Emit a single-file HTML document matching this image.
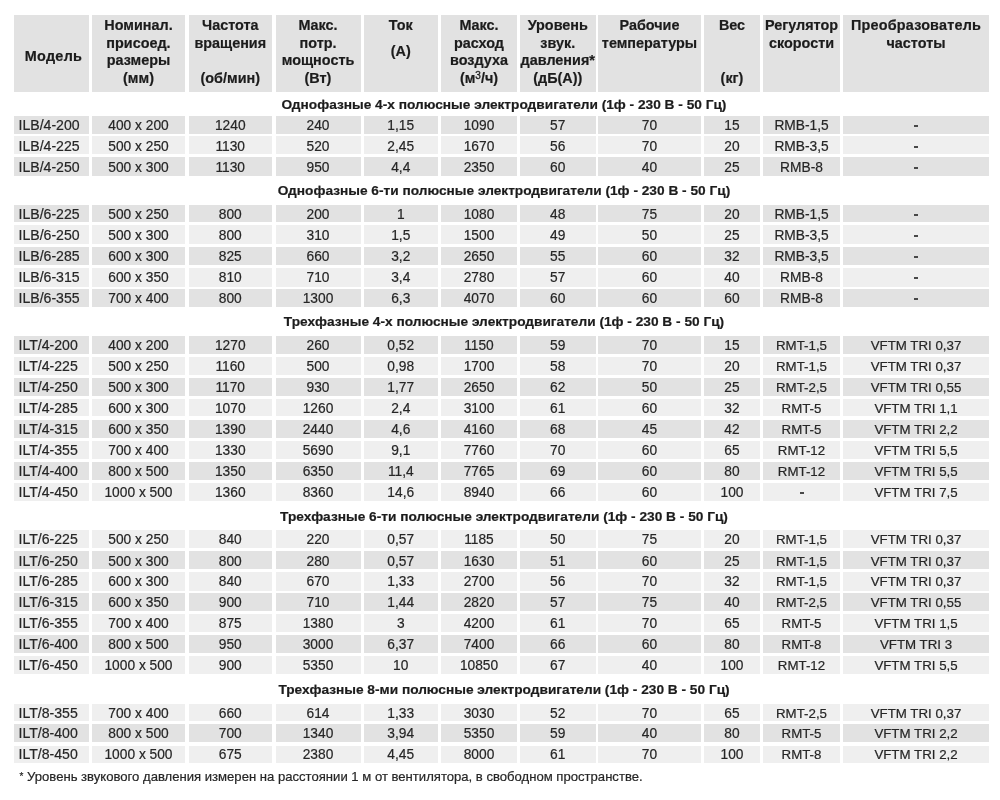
<!DOCTYPE html>
<html><head><meta charset="utf-8"><style>
html,body{margin:0;padding:0;background:#fff;}
body{will-change:transform;width:1000px;height:800px;position:relative;overflow:hidden;font-family:"Liberation Sans",sans-serif;}
.b{position:absolute;}
.t{position:absolute;white-space:nowrap;text-align:center;line-height:1;}
.r{-webkit-text-stroke:0.2px #262626;font-size:13.75px;color:#262626;}
.h{-webkit-text-stroke:0.2px #1c1c1c;font-size:14.4px;font-weight:bold;color:#1c1c1c;}
.s{-webkit-text-stroke:0.2px #1c1c1c;font-size:13.7px;font-weight:bold;color:#1c1c1c;}
.c1{font-size:14.1px;}
.sm{font-size:13.3px;}
.n{-webkit-text-stroke:0.2px #262626;font-size:13.1px;color:#262626;}
sup{font-size:10px;font-weight:normal;-webkit-text-stroke:0.3px #1c1c1c;vertical-align:baseline;position:relative;top:-4.5px;}
</style></head><body>

<div class="b" style="left:14px;top:14.5px;width:75px;height:77px;background:#e2e2e2"></div>
<div class="b" style="left:92px;top:14.5px;width:93px;height:77px;background:#e2e2e2"></div>
<div class="b" style="left:188.5px;top:14.5px;width:83.5px;height:77px;background:#e2e2e2"></div>
<div class="b" style="left:275.5px;top:14.5px;width:85px;height:77px;background:#e2e2e2"></div>
<div class="b" style="left:363.5px;top:14.5px;width:74.5px;height:77px;background:#e2e2e2"></div>
<div class="b" style="left:441px;top:14.5px;width:76px;height:77px;background:#e2e2e2"></div>
<div class="b" style="left:520px;top:14.5px;width:75.5px;height:77px;background:#e2e2e2"></div>
<div class="b" style="left:598px;top:14.5px;width:103px;height:77px;background:#e2e2e2"></div>
<div class="b" style="left:704px;top:14.5px;width:56px;height:77px;background:#e2e2e2"></div>
<div class="b" style="left:763px;top:14.5px;width:77px;height:77px;background:#e2e2e2"></div>
<div class="b" style="left:843px;top:14.5px;width:146px;height:77px;background:#e2e2e2"></div>
<div class="t h" style="left:6px;width:95px;top:49px"><span style="letter-spacing:0.3px">Модель</span></div>
<div class="t h" style="left:82px;width:113px;top:18.1px">Номинал.</div>
<div class="t h" style="left:82px;width:113px;top:35.6px">присоед.</div>
<div class="t h" style="left:82px;width:113px;top:53.2px">размеры</div>
<div class="t h" style="left:82px;width:113px;top:71px">(мм)</div>
<div class="t h" style="left:178.5px;width:103.5px;top:18.1px">Частота</div>
<div class="t h" style="left:178.5px;width:103.5px;top:35.6px">вращения</div>
<div class="t h" style="left:178.5px;width:103.5px;top:71px">(об/мин)</div>
<div class="t h" style="left:265.5px;width:105px;top:18.1px">Макс.</div>
<div class="t h" style="left:265.5px;width:105px;top:35.6px">потр.</div>
<div class="t h" style="left:265.5px;width:105px;top:53.2px">мощность</div>
<div class="t h" style="left:265.5px;width:105px;top:71px">(Вт)</div>
<div class="t h" style="left:353.5px;width:94.5px;top:18.1px">Ток</div>
<div class="t h" style="left:353.5px;width:94.5px;top:43.6px">(А)</div>
<div class="t h" style="left:431px;width:96px;top:18.1px">Макс.</div>
<div class="t h" style="left:431px;width:96px;top:35.6px">расход</div>
<div class="t h" style="left:431px;width:96px;top:53.2px">воздуха</div>
<div class="t h" style="left:431px;width:96px;top:71px">(м<sup>3</sup>/ч)</div>
<div class="t h" style="left:510px;width:95.5px;top:18.1px">Уровень</div>
<div class="t h" style="left:510px;width:95.5px;top:35.6px">звук.</div>
<div class="t h" style="left:510px;width:95.5px;top:53.2px">давления*</div>
<div class="t h" style="left:510px;width:95.5px;top:71px">(дБ(А))</div>
<div class="t h" style="left:588px;width:123px;top:18.1px">Рабочие</div>
<div class="t h" style="left:588px;width:123px;top:35.6px">температуры</div>
<div class="t h" style="left:694px;width:76px;top:18.1px">Вес</div>
<div class="t h" style="left:694px;width:76px;top:71px">(кг)</div>
<div class="t h" style="left:753px;width:97px;top:18.1px">Регулятор</div>
<div class="t h" style="left:753px;width:97px;top:35.6px">скорости</div>
<div class="t h" style="left:833px;width:166px;top:18.1px"><span style="letter-spacing:0.2px">Преобразователь</span></div>
<div class="t h" style="left:833px;width:166px;top:35.6px">частоты</div>
<div class="t s" style="left:204px;width:600px;top:97.5px">Однофазные 4-х полюсные электродвигатели (1ф - 230 В - 50 Гц)</div>
<div class="b" style="left:14px;top:115.8px;width:75px;height:17.8px;background:#e2e2e2"></div>
<div class="b" style="left:92px;top:115.8px;width:93px;height:17.8px;background:#e2e2e2"></div>
<div class="b" style="left:188.5px;top:115.8px;width:83.5px;height:17.8px;background:#e2e2e2"></div>
<div class="b" style="left:275.5px;top:115.8px;width:85px;height:17.8px;background:#e2e2e2"></div>
<div class="b" style="left:363.5px;top:115.8px;width:74.5px;height:17.8px;background:#e2e2e2"></div>
<div class="b" style="left:441px;top:115.8px;width:76px;height:17.8px;background:#e2e2e2"></div>
<div class="b" style="left:520px;top:115.8px;width:75.5px;height:17.8px;background:#e2e2e2"></div>
<div class="b" style="left:598px;top:115.8px;width:103px;height:17.8px;background:#e2e2e2"></div>
<div class="b" style="left:704px;top:115.8px;width:56px;height:17.8px;background:#e2e2e2"></div>
<div class="b" style="left:763px;top:115.8px;width:77px;height:17.8px;background:#e2e2e2"></div>
<div class="b" style="left:843px;top:115.8px;width:146px;height:17.8px;background:#e2e2e2"></div>
<div class="t r c1" style="left:18.5px;top:118px;text-align:left">ILB/4-200</div>
<div class="t r" style="left:82px;width:113px;top:119px">400 x 200</div>
<div class="t r" style="left:178.5px;width:103.5px;top:119px">1240</div>
<div class="t r" style="left:265.5px;width:105px;top:119px">240</div>
<div class="t r" style="left:353.5px;width:94.5px;top:119px">1,15</div>
<div class="t r" style="left:431px;width:96px;top:119px">1090</div>
<div class="t r" style="left:510px;width:95.5px;top:119px">57</div>
<div class="t r" style="left:588px;width:123px;top:119px">70</div>
<div class="t r" style="left:694px;width:76px;top:119px">15</div>
<div class="t r" style="left:753px;width:97px;top:119px">RMB-1,5</div>
<div class="b" style="left:914px;top:125px;width:4px;height:2px;background:#484848"></div>
<div class="b" style="left:14px;top:136.2px;width:75px;height:18px;background:#efefef"></div>
<div class="b" style="left:92px;top:136.2px;width:93px;height:18px;background:#efefef"></div>
<div class="b" style="left:188.5px;top:136.2px;width:83.5px;height:18px;background:#efefef"></div>
<div class="b" style="left:275.5px;top:136.2px;width:85px;height:18px;background:#efefef"></div>
<div class="b" style="left:363.5px;top:136.2px;width:74.5px;height:18px;background:#efefef"></div>
<div class="b" style="left:441px;top:136.2px;width:76px;height:18px;background:#efefef"></div>
<div class="b" style="left:520px;top:136.2px;width:75.5px;height:18px;background:#efefef"></div>
<div class="b" style="left:598px;top:136.2px;width:103px;height:18px;background:#efefef"></div>
<div class="b" style="left:704px;top:136.2px;width:56px;height:18px;background:#efefef"></div>
<div class="b" style="left:763px;top:136.2px;width:77px;height:18px;background:#efefef"></div>
<div class="b" style="left:843px;top:136.2px;width:146px;height:18px;background:#efefef"></div>
<div class="t r c1" style="left:18.5px;top:139px;text-align:left">ILB/4-225</div>
<div class="t r" style="left:82px;width:113px;top:140px">500 x 250</div>
<div class="t r" style="left:178.5px;width:103.5px;top:140px">1130</div>
<div class="t r" style="left:265.5px;width:105px;top:140px">520</div>
<div class="t r" style="left:353.5px;width:94.5px;top:140px">2,45</div>
<div class="t r" style="left:431px;width:96px;top:140px">1670</div>
<div class="t r" style="left:510px;width:95.5px;top:140px">56</div>
<div class="t r" style="left:588px;width:123px;top:140px">70</div>
<div class="t r" style="left:694px;width:76px;top:140px">20</div>
<div class="t r" style="left:753px;width:97px;top:140px">RMB-3,5</div>
<div class="b" style="left:914px;top:146px;width:4px;height:2px;background:#484848"></div>
<div class="b" style="left:14px;top:157.2px;width:75px;height:18.4px;background:#e2e2e2"></div>
<div class="b" style="left:92px;top:157.2px;width:93px;height:18.4px;background:#e2e2e2"></div>
<div class="b" style="left:188.5px;top:157.2px;width:83.5px;height:18.4px;background:#e2e2e2"></div>
<div class="b" style="left:275.5px;top:157.2px;width:85px;height:18.4px;background:#e2e2e2"></div>
<div class="b" style="left:363.5px;top:157.2px;width:74.5px;height:18.4px;background:#e2e2e2"></div>
<div class="b" style="left:441px;top:157.2px;width:76px;height:18.4px;background:#e2e2e2"></div>
<div class="b" style="left:520px;top:157.2px;width:75.5px;height:18.4px;background:#e2e2e2"></div>
<div class="b" style="left:598px;top:157.2px;width:103px;height:18.4px;background:#e2e2e2"></div>
<div class="b" style="left:704px;top:157.2px;width:56px;height:18.4px;background:#e2e2e2"></div>
<div class="b" style="left:763px;top:157.2px;width:77px;height:18.4px;background:#e2e2e2"></div>
<div class="b" style="left:843px;top:157.2px;width:146px;height:18.4px;background:#e2e2e2"></div>
<div class="t r c1" style="left:18.5px;top:160px;text-align:left">ILB/4-250</div>
<div class="t r" style="left:82px;width:113px;top:161px">500 x 300</div>
<div class="t r" style="left:178.5px;width:103.5px;top:161px">1130</div>
<div class="t r" style="left:265.5px;width:105px;top:161px">950</div>
<div class="t r" style="left:353.5px;width:94.5px;top:161px">4,4</div>
<div class="t r" style="left:431px;width:96px;top:161px">2350</div>
<div class="t r" style="left:510px;width:95.5px;top:161px">60</div>
<div class="t r" style="left:588px;width:123px;top:161px">40</div>
<div class="t r" style="left:694px;width:76px;top:161px">25</div>
<div class="t r" style="left:753px;width:97px;top:161px">RMB-8</div>
<div class="b" style="left:914px;top:167px;width:4px;height:2px;background:#484848"></div>
<div class="t s" style="left:204px;width:600px;top:183.5px">Однофазные 6-ти полюсные электродвигатели (1ф - 230 В - 50 Гц)</div>
<div class="b" style="left:14px;top:204.65px;width:75px;height:17.85px;background:#e2e2e2"></div>
<div class="b" style="left:92px;top:204.65px;width:93px;height:17.85px;background:#e2e2e2"></div>
<div class="b" style="left:188.5px;top:204.65px;width:83.5px;height:17.85px;background:#e2e2e2"></div>
<div class="b" style="left:275.5px;top:204.65px;width:85px;height:17.85px;background:#e2e2e2"></div>
<div class="b" style="left:363.5px;top:204.65px;width:74.5px;height:17.85px;background:#e2e2e2"></div>
<div class="b" style="left:441px;top:204.65px;width:76px;height:17.85px;background:#e2e2e2"></div>
<div class="b" style="left:520px;top:204.65px;width:75.5px;height:17.85px;background:#e2e2e2"></div>
<div class="b" style="left:598px;top:204.65px;width:103px;height:17.85px;background:#e2e2e2"></div>
<div class="b" style="left:704px;top:204.65px;width:56px;height:17.85px;background:#e2e2e2"></div>
<div class="b" style="left:763px;top:204.65px;width:77px;height:17.85px;background:#e2e2e2"></div>
<div class="b" style="left:843px;top:204.65px;width:146px;height:17.85px;background:#e2e2e2"></div>
<div class="t r c1" style="left:18.5px;top:207px;text-align:left">ILB/6-225</div>
<div class="t r" style="left:82px;width:113px;top:208px">500 x 250</div>
<div class="t r" style="left:178.5px;width:103.5px;top:208px">800</div>
<div class="t r" style="left:265.5px;width:105px;top:208px">200</div>
<div class="t r" style="left:353.5px;width:94.5px;top:208px">1</div>
<div class="t r" style="left:431px;width:96px;top:208px">1080</div>
<div class="t r" style="left:510px;width:95.5px;top:208px">48</div>
<div class="t r" style="left:588px;width:123px;top:208px">75</div>
<div class="t r" style="left:694px;width:76px;top:208px">20</div>
<div class="t r" style="left:753px;width:97px;top:208px">RMB-1,5</div>
<div class="b" style="left:914px;top:214px;width:4px;height:2px;background:#484848"></div>
<div class="b" style="left:14px;top:224.75px;width:75px;height:19.15px;background:#efefef"></div>
<div class="b" style="left:92px;top:224.75px;width:93px;height:19.15px;background:#efefef"></div>
<div class="b" style="left:188.5px;top:224.75px;width:83.5px;height:19.15px;background:#efefef"></div>
<div class="b" style="left:275.5px;top:224.75px;width:85px;height:19.15px;background:#efefef"></div>
<div class="b" style="left:363.5px;top:224.75px;width:74.5px;height:19.15px;background:#efefef"></div>
<div class="b" style="left:441px;top:224.75px;width:76px;height:19.15px;background:#efefef"></div>
<div class="b" style="left:520px;top:224.75px;width:75.5px;height:19.15px;background:#efefef"></div>
<div class="b" style="left:598px;top:224.75px;width:103px;height:19.15px;background:#efefef"></div>
<div class="b" style="left:704px;top:224.75px;width:56px;height:19.15px;background:#efefef"></div>
<div class="b" style="left:763px;top:224.75px;width:77px;height:19.15px;background:#efefef"></div>
<div class="b" style="left:843px;top:224.75px;width:146px;height:19.15px;background:#efefef"></div>
<div class="t r c1" style="left:18.5px;top:228px;text-align:left">ILB/6-250</div>
<div class="t r" style="left:82px;width:113px;top:229px">500 x 300</div>
<div class="t r" style="left:178.5px;width:103.5px;top:229px">800</div>
<div class="t r" style="left:265.5px;width:105px;top:229px">310</div>
<div class="t r" style="left:353.5px;width:94.5px;top:229px">1,5</div>
<div class="t r" style="left:431px;width:96px;top:229px">1500</div>
<div class="t r" style="left:510px;width:95.5px;top:229px">49</div>
<div class="t r" style="left:588px;width:123px;top:229px">50</div>
<div class="t r" style="left:694px;width:76px;top:229px">25</div>
<div class="t r" style="left:753px;width:97px;top:229px">RMB-3,5</div>
<div class="b" style="left:914px;top:235px;width:4px;height:2px;background:#484848"></div>
<div class="b" style="left:14px;top:246.9px;width:75px;height:17.85px;background:#e2e2e2"></div>
<div class="b" style="left:92px;top:246.9px;width:93px;height:17.85px;background:#e2e2e2"></div>
<div class="b" style="left:188.5px;top:246.9px;width:83.5px;height:17.85px;background:#e2e2e2"></div>
<div class="b" style="left:275.5px;top:246.9px;width:85px;height:17.85px;background:#e2e2e2"></div>
<div class="b" style="left:363.5px;top:246.9px;width:74.5px;height:17.85px;background:#e2e2e2"></div>
<div class="b" style="left:441px;top:246.9px;width:76px;height:17.85px;background:#e2e2e2"></div>
<div class="b" style="left:520px;top:246.9px;width:75.5px;height:17.85px;background:#e2e2e2"></div>
<div class="b" style="left:598px;top:246.9px;width:103px;height:17.85px;background:#e2e2e2"></div>
<div class="b" style="left:704px;top:246.9px;width:56px;height:17.85px;background:#e2e2e2"></div>
<div class="b" style="left:763px;top:246.9px;width:77px;height:17.85px;background:#e2e2e2"></div>
<div class="b" style="left:843px;top:246.9px;width:146px;height:17.85px;background:#e2e2e2"></div>
<div class="t r c1" style="left:18.5px;top:249px;text-align:left">ILB/6-285</div>
<div class="t r" style="left:82px;width:113px;top:250px">600 x 300</div>
<div class="t r" style="left:178.5px;width:103.5px;top:250px">825</div>
<div class="t r" style="left:265.5px;width:105px;top:250px">660</div>
<div class="t r" style="left:353.5px;width:94.5px;top:250px">3,2</div>
<div class="t r" style="left:431px;width:96px;top:250px">2650</div>
<div class="t r" style="left:510px;width:95.5px;top:250px">55</div>
<div class="t r" style="left:588px;width:123px;top:250px">60</div>
<div class="t r" style="left:694px;width:76px;top:250px">32</div>
<div class="t r" style="left:753px;width:97px;top:250px">RMB-3,5</div>
<div class="b" style="left:914px;top:256px;width:4px;height:2px;background:#484848"></div>
<div class="b" style="left:14px;top:267.75px;width:75px;height:18.75px;background:#efefef"></div>
<div class="b" style="left:92px;top:267.75px;width:93px;height:18.75px;background:#efefef"></div>
<div class="b" style="left:188.5px;top:267.75px;width:83.5px;height:18.75px;background:#efefef"></div>
<div class="b" style="left:275.5px;top:267.75px;width:85px;height:18.75px;background:#efefef"></div>
<div class="b" style="left:363.5px;top:267.75px;width:74.5px;height:18.75px;background:#efefef"></div>
<div class="b" style="left:441px;top:267.75px;width:76px;height:18.75px;background:#efefef"></div>
<div class="b" style="left:520px;top:267.75px;width:75.5px;height:18.75px;background:#efefef"></div>
<div class="b" style="left:598px;top:267.75px;width:103px;height:18.75px;background:#efefef"></div>
<div class="b" style="left:704px;top:267.75px;width:56px;height:18.75px;background:#efefef"></div>
<div class="b" style="left:763px;top:267.75px;width:77px;height:18.75px;background:#efefef"></div>
<div class="b" style="left:843px;top:267.75px;width:146px;height:18.75px;background:#efefef"></div>
<div class="t r c1" style="left:18.5px;top:270px;text-align:left">ILB/6-315</div>
<div class="t r" style="left:82px;width:113px;top:271px">600 x 350</div>
<div class="t r" style="left:178.5px;width:103.5px;top:271px">810</div>
<div class="t r" style="left:265.5px;width:105px;top:271px">710</div>
<div class="t r" style="left:353.5px;width:94.5px;top:271px">3,4</div>
<div class="t r" style="left:431px;width:96px;top:271px">2780</div>
<div class="t r" style="left:510px;width:95.5px;top:271px">57</div>
<div class="t r" style="left:588px;width:123px;top:271px">60</div>
<div class="t r" style="left:694px;width:76px;top:271px">40</div>
<div class="t r" style="left:753px;width:97px;top:271px">RMB-8</div>
<div class="b" style="left:914px;top:277px;width:4px;height:2px;background:#484848"></div>
<div class="b" style="left:14px;top:288.75px;width:75px;height:18px;background:#e2e2e2"></div>
<div class="b" style="left:92px;top:288.75px;width:93px;height:18px;background:#e2e2e2"></div>
<div class="b" style="left:188.5px;top:288.75px;width:83.5px;height:18px;background:#e2e2e2"></div>
<div class="b" style="left:275.5px;top:288.75px;width:85px;height:18px;background:#e2e2e2"></div>
<div class="b" style="left:363.5px;top:288.75px;width:74.5px;height:18px;background:#e2e2e2"></div>
<div class="b" style="left:441px;top:288.75px;width:76px;height:18px;background:#e2e2e2"></div>
<div class="b" style="left:520px;top:288.75px;width:75.5px;height:18px;background:#e2e2e2"></div>
<div class="b" style="left:598px;top:288.75px;width:103px;height:18px;background:#e2e2e2"></div>
<div class="b" style="left:704px;top:288.75px;width:56px;height:18px;background:#e2e2e2"></div>
<div class="b" style="left:763px;top:288.75px;width:77px;height:18px;background:#e2e2e2"></div>
<div class="b" style="left:843px;top:288.75px;width:146px;height:18px;background:#e2e2e2"></div>
<div class="t r c1" style="left:18.5px;top:291px;text-align:left">ILB/6-355</div>
<div class="t r" style="left:82px;width:113px;top:292px">700 x 400</div>
<div class="t r" style="left:178.5px;width:103.5px;top:292px">800</div>
<div class="t r" style="left:265.5px;width:105px;top:292px">1300</div>
<div class="t r" style="left:353.5px;width:94.5px;top:292px">6,3</div>
<div class="t r" style="left:431px;width:96px;top:292px">4070</div>
<div class="t r" style="left:510px;width:95.5px;top:292px">60</div>
<div class="t r" style="left:588px;width:123px;top:292px">60</div>
<div class="t r" style="left:694px;width:76px;top:292px">60</div>
<div class="t r" style="left:753px;width:97px;top:292px">RMB-8</div>
<div class="b" style="left:914px;top:298px;width:4px;height:2px;background:#484848"></div>
<div class="t s" style="left:204px;width:600px;top:315px">Трехфазные 4-х полюсные электродвигатели (1ф - 230 В - 50 Гц)</div>
<div class="b" style="left:14px;top:335.85px;width:75px;height:18.15px;background:#e2e2e2"></div>
<div class="b" style="left:92px;top:335.85px;width:93px;height:18.15px;background:#e2e2e2"></div>
<div class="b" style="left:188.5px;top:335.85px;width:83.5px;height:18.15px;background:#e2e2e2"></div>
<div class="b" style="left:275.5px;top:335.85px;width:85px;height:18.15px;background:#e2e2e2"></div>
<div class="b" style="left:363.5px;top:335.85px;width:74.5px;height:18.15px;background:#e2e2e2"></div>
<div class="b" style="left:441px;top:335.85px;width:76px;height:18.15px;background:#e2e2e2"></div>
<div class="b" style="left:520px;top:335.85px;width:75.5px;height:18.15px;background:#e2e2e2"></div>
<div class="b" style="left:598px;top:335.85px;width:103px;height:18.15px;background:#e2e2e2"></div>
<div class="b" style="left:704px;top:335.85px;width:56px;height:18.15px;background:#e2e2e2"></div>
<div class="b" style="left:763px;top:335.85px;width:77px;height:18.15px;background:#e2e2e2"></div>
<div class="b" style="left:843px;top:335.85px;width:146px;height:18.15px;background:#e2e2e2"></div>
<div class="t r c1" style="left:18.5px;top:338px;text-align:left">ILT/4-200</div>
<div class="t r" style="left:82px;width:113px;top:339px">400 x 200</div>
<div class="t r" style="left:178.5px;width:103.5px;top:339px">1270</div>
<div class="t r" style="left:265.5px;width:105px;top:339px">260</div>
<div class="t r" style="left:353.5px;width:94.5px;top:339px">0,52</div>
<div class="t r" style="left:431px;width:96px;top:339px">1150</div>
<div class="t r" style="left:510px;width:95.5px;top:339px">59</div>
<div class="t r" style="left:588px;width:123px;top:339px">70</div>
<div class="t r" style="left:694px;width:76px;top:339px">15</div>
<div class="t r sm" style="left:753px;width:97px;top:339px">RMT-1,5</div>
<div class="t r sm" style="left:833px;width:166px;top:339px">VFTM TRI 0,37</div>
<div class="b" style="left:14px;top:357px;width:75px;height:18px;background:#efefef"></div>
<div class="b" style="left:92px;top:357px;width:93px;height:18px;background:#efefef"></div>
<div class="b" style="left:188.5px;top:357px;width:83.5px;height:18px;background:#efefef"></div>
<div class="b" style="left:275.5px;top:357px;width:85px;height:18px;background:#efefef"></div>
<div class="b" style="left:363.5px;top:357px;width:74.5px;height:18px;background:#efefef"></div>
<div class="b" style="left:441px;top:357px;width:76px;height:18px;background:#efefef"></div>
<div class="b" style="left:520px;top:357px;width:75.5px;height:18px;background:#efefef"></div>
<div class="b" style="left:598px;top:357px;width:103px;height:18px;background:#efefef"></div>
<div class="b" style="left:704px;top:357px;width:56px;height:18px;background:#efefef"></div>
<div class="b" style="left:763px;top:357px;width:77px;height:18px;background:#efefef"></div>
<div class="b" style="left:843px;top:357px;width:146px;height:18px;background:#efefef"></div>
<div class="t r c1" style="left:18.5px;top:359px;text-align:left">ILT/4-225</div>
<div class="t r" style="left:82px;width:113px;top:360px">500 x 250</div>
<div class="t r" style="left:178.5px;width:103.5px;top:360px">1160</div>
<div class="t r" style="left:265.5px;width:105px;top:360px">500</div>
<div class="t r" style="left:353.5px;width:94.5px;top:360px">0,98</div>
<div class="t r" style="left:431px;width:96px;top:360px">1700</div>
<div class="t r" style="left:510px;width:95.5px;top:360px">58</div>
<div class="t r" style="left:588px;width:123px;top:360px">70</div>
<div class="t r" style="left:694px;width:76px;top:360px">20</div>
<div class="t r sm" style="left:753px;width:97px;top:360px">RMT-1,5</div>
<div class="t r sm" style="left:833px;width:166px;top:360px">VFTM TRI 0,37</div>
<div class="b" style="left:14px;top:378px;width:75px;height:17.9px;background:#e2e2e2"></div>
<div class="b" style="left:92px;top:378px;width:93px;height:17.9px;background:#e2e2e2"></div>
<div class="b" style="left:188.5px;top:378px;width:83.5px;height:17.9px;background:#e2e2e2"></div>
<div class="b" style="left:275.5px;top:378px;width:85px;height:17.9px;background:#e2e2e2"></div>
<div class="b" style="left:363.5px;top:378px;width:74.5px;height:17.9px;background:#e2e2e2"></div>
<div class="b" style="left:441px;top:378px;width:76px;height:17.9px;background:#e2e2e2"></div>
<div class="b" style="left:520px;top:378px;width:75.5px;height:17.9px;background:#e2e2e2"></div>
<div class="b" style="left:598px;top:378px;width:103px;height:17.9px;background:#e2e2e2"></div>
<div class="b" style="left:704px;top:378px;width:56px;height:17.9px;background:#e2e2e2"></div>
<div class="b" style="left:763px;top:378px;width:77px;height:17.9px;background:#e2e2e2"></div>
<div class="b" style="left:843px;top:378px;width:146px;height:17.9px;background:#e2e2e2"></div>
<div class="t r c1" style="left:18.5px;top:380px;text-align:left">ILT/4-250</div>
<div class="t r" style="left:82px;width:113px;top:381px">500 x 300</div>
<div class="t r" style="left:178.5px;width:103.5px;top:381px">1170</div>
<div class="t r" style="left:265.5px;width:105px;top:381px">930</div>
<div class="t r" style="left:353.5px;width:94.5px;top:381px">1,77</div>
<div class="t r" style="left:431px;width:96px;top:381px">2650</div>
<div class="t r" style="left:510px;width:95.5px;top:381px">62</div>
<div class="t r" style="left:588px;width:123px;top:381px">50</div>
<div class="t r" style="left:694px;width:76px;top:381px">25</div>
<div class="t r sm" style="left:753px;width:97px;top:381px">RMT-2,5</div>
<div class="t r sm" style="left:833px;width:166px;top:381px">VFTM TRI 0,55</div>
<div class="b" style="left:14px;top:398.9px;width:75px;height:17.6px;background:#efefef"></div>
<div class="b" style="left:92px;top:398.9px;width:93px;height:17.6px;background:#efefef"></div>
<div class="b" style="left:188.5px;top:398.9px;width:83.5px;height:17.6px;background:#efefef"></div>
<div class="b" style="left:275.5px;top:398.9px;width:85px;height:17.6px;background:#efefef"></div>
<div class="b" style="left:363.5px;top:398.9px;width:74.5px;height:17.6px;background:#efefef"></div>
<div class="b" style="left:441px;top:398.9px;width:76px;height:17.6px;background:#efefef"></div>
<div class="b" style="left:520px;top:398.9px;width:75.5px;height:17.6px;background:#efefef"></div>
<div class="b" style="left:598px;top:398.9px;width:103px;height:17.6px;background:#efefef"></div>
<div class="b" style="left:704px;top:398.9px;width:56px;height:17.6px;background:#efefef"></div>
<div class="b" style="left:763px;top:398.9px;width:77px;height:17.6px;background:#efefef"></div>
<div class="b" style="left:843px;top:398.9px;width:146px;height:17.6px;background:#efefef"></div>
<div class="t r c1" style="left:18.5px;top:401px;text-align:left">ILT/4-285</div>
<div class="t r" style="left:82px;width:113px;top:402px">600 x 300</div>
<div class="t r" style="left:178.5px;width:103.5px;top:402px">1070</div>
<div class="t r" style="left:265.5px;width:105px;top:402px">1260</div>
<div class="t r" style="left:353.5px;width:94.5px;top:402px">2,4</div>
<div class="t r" style="left:431px;width:96px;top:402px">3100</div>
<div class="t r" style="left:510px;width:95.5px;top:402px">61</div>
<div class="t r" style="left:588px;width:123px;top:402px">60</div>
<div class="t r" style="left:694px;width:76px;top:402px">32</div>
<div class="t r sm" style="left:753px;width:97px;top:402px">RMT-5</div>
<div class="t r sm" style="left:833px;width:166px;top:402px">VFTM TRI 1,1</div>
<div class="b" style="left:14px;top:419.9px;width:75px;height:18.4px;background:#e2e2e2"></div>
<div class="b" style="left:92px;top:419.9px;width:93px;height:18.4px;background:#e2e2e2"></div>
<div class="b" style="left:188.5px;top:419.9px;width:83.5px;height:18.4px;background:#e2e2e2"></div>
<div class="b" style="left:275.5px;top:419.9px;width:85px;height:18.4px;background:#e2e2e2"></div>
<div class="b" style="left:363.5px;top:419.9px;width:74.5px;height:18.4px;background:#e2e2e2"></div>
<div class="b" style="left:441px;top:419.9px;width:76px;height:18.4px;background:#e2e2e2"></div>
<div class="b" style="left:520px;top:419.9px;width:75.5px;height:18.4px;background:#e2e2e2"></div>
<div class="b" style="left:598px;top:419.9px;width:103px;height:18.4px;background:#e2e2e2"></div>
<div class="b" style="left:704px;top:419.9px;width:56px;height:18.4px;background:#e2e2e2"></div>
<div class="b" style="left:763px;top:419.9px;width:77px;height:18.4px;background:#e2e2e2"></div>
<div class="b" style="left:843px;top:419.9px;width:146px;height:18.4px;background:#e2e2e2"></div>
<div class="t r c1" style="left:18.5px;top:422px;text-align:left">ILT/4-315</div>
<div class="t r" style="left:82px;width:113px;top:423px">600 x 350</div>
<div class="t r" style="left:178.5px;width:103.5px;top:423px">1390</div>
<div class="t r" style="left:265.5px;width:105px;top:423px">2440</div>
<div class="t r" style="left:353.5px;width:94.5px;top:423px">4,6</div>
<div class="t r" style="left:431px;width:96px;top:423px">4160</div>
<div class="t r" style="left:510px;width:95.5px;top:423px">68</div>
<div class="t r" style="left:588px;width:123px;top:423px">45</div>
<div class="t r" style="left:694px;width:76px;top:423px">42</div>
<div class="t r sm" style="left:753px;width:97px;top:423px">RMT-5</div>
<div class="t r sm" style="left:833px;width:166px;top:423px">VFTM TRI 2,2</div>
<div class="b" style="left:14px;top:440.6px;width:75px;height:18.4px;background:#efefef"></div>
<div class="b" style="left:92px;top:440.6px;width:93px;height:18.4px;background:#efefef"></div>
<div class="b" style="left:188.5px;top:440.6px;width:83.5px;height:18.4px;background:#efefef"></div>
<div class="b" style="left:275.5px;top:440.6px;width:85px;height:18.4px;background:#efefef"></div>
<div class="b" style="left:363.5px;top:440.6px;width:74.5px;height:18.4px;background:#efefef"></div>
<div class="b" style="left:441px;top:440.6px;width:76px;height:18.4px;background:#efefef"></div>
<div class="b" style="left:520px;top:440.6px;width:75.5px;height:18.4px;background:#efefef"></div>
<div class="b" style="left:598px;top:440.6px;width:103px;height:18.4px;background:#efefef"></div>
<div class="b" style="left:704px;top:440.6px;width:56px;height:18.4px;background:#efefef"></div>
<div class="b" style="left:763px;top:440.6px;width:77px;height:18.4px;background:#efefef"></div>
<div class="b" style="left:843px;top:440.6px;width:146px;height:18.4px;background:#efefef"></div>
<div class="t r c1" style="left:18.5px;top:443px;text-align:left">ILT/4-355</div>
<div class="t r" style="left:82px;width:113px;top:444px">700 x 400</div>
<div class="t r" style="left:178.5px;width:103.5px;top:444px">1330</div>
<div class="t r" style="left:265.5px;width:105px;top:444px">5690</div>
<div class="t r" style="left:353.5px;width:94.5px;top:444px">9,1</div>
<div class="t r" style="left:431px;width:96px;top:444px">7760</div>
<div class="t r" style="left:510px;width:95.5px;top:444px">70</div>
<div class="t r" style="left:588px;width:123px;top:444px">60</div>
<div class="t r" style="left:694px;width:76px;top:444px">65</div>
<div class="t r sm" style="left:753px;width:97px;top:444px">RMT-12</div>
<div class="t r sm" style="left:833px;width:166px;top:444px">VFTM TRI 5,5</div>
<div class="b" style="left:14px;top:462px;width:75px;height:18px;background:#e2e2e2"></div>
<div class="b" style="left:92px;top:462px;width:93px;height:18px;background:#e2e2e2"></div>
<div class="b" style="left:188.5px;top:462px;width:83.5px;height:18px;background:#e2e2e2"></div>
<div class="b" style="left:275.5px;top:462px;width:85px;height:18px;background:#e2e2e2"></div>
<div class="b" style="left:363.5px;top:462px;width:74.5px;height:18px;background:#e2e2e2"></div>
<div class="b" style="left:441px;top:462px;width:76px;height:18px;background:#e2e2e2"></div>
<div class="b" style="left:520px;top:462px;width:75.5px;height:18px;background:#e2e2e2"></div>
<div class="b" style="left:598px;top:462px;width:103px;height:18px;background:#e2e2e2"></div>
<div class="b" style="left:704px;top:462px;width:56px;height:18px;background:#e2e2e2"></div>
<div class="b" style="left:763px;top:462px;width:77px;height:18px;background:#e2e2e2"></div>
<div class="b" style="left:843px;top:462px;width:146px;height:18px;background:#e2e2e2"></div>
<div class="t r c1" style="left:18.5px;top:464px;text-align:left">ILT/4-400</div>
<div class="t r" style="left:82px;width:113px;top:465px">800 x 500</div>
<div class="t r" style="left:178.5px;width:103.5px;top:465px">1350</div>
<div class="t r" style="left:265.5px;width:105px;top:465px">6350</div>
<div class="t r" style="left:353.5px;width:94.5px;top:465px">11,4</div>
<div class="t r" style="left:431px;width:96px;top:465px">7765</div>
<div class="t r" style="left:510px;width:95.5px;top:465px">69</div>
<div class="t r" style="left:588px;width:123px;top:465px">60</div>
<div class="t r" style="left:694px;width:76px;top:465px">80</div>
<div class="t r sm" style="left:753px;width:97px;top:465px">RMT-12</div>
<div class="t r sm" style="left:833px;width:166px;top:465px">VFTM TRI 5,5</div>
<div class="b" style="left:14px;top:483px;width:75px;height:18px;background:#efefef"></div>
<div class="b" style="left:92px;top:483px;width:93px;height:18px;background:#efefef"></div>
<div class="b" style="left:188.5px;top:483px;width:83.5px;height:18px;background:#efefef"></div>
<div class="b" style="left:275.5px;top:483px;width:85px;height:18px;background:#efefef"></div>
<div class="b" style="left:363.5px;top:483px;width:74.5px;height:18px;background:#efefef"></div>
<div class="b" style="left:441px;top:483px;width:76px;height:18px;background:#efefef"></div>
<div class="b" style="left:520px;top:483px;width:75.5px;height:18px;background:#efefef"></div>
<div class="b" style="left:598px;top:483px;width:103px;height:18px;background:#efefef"></div>
<div class="b" style="left:704px;top:483px;width:56px;height:18px;background:#efefef"></div>
<div class="b" style="left:763px;top:483px;width:77px;height:18px;background:#efefef"></div>
<div class="b" style="left:843px;top:483px;width:146px;height:18px;background:#efefef"></div>
<div class="t r c1" style="left:18.5px;top:485px;text-align:left">ILT/4-450</div>
<div class="t r" style="left:82px;width:113px;top:486px">1000 x 500</div>
<div class="t r" style="left:178.5px;width:103.5px;top:486px">1360</div>
<div class="t r" style="left:265.5px;width:105px;top:486px">8360</div>
<div class="t r" style="left:353.5px;width:94.5px;top:486px">14,6</div>
<div class="t r" style="left:431px;width:96px;top:486px">8940</div>
<div class="t r" style="left:510px;width:95.5px;top:486px">66</div>
<div class="t r" style="left:588px;width:123px;top:486px">60</div>
<div class="t r" style="left:694px;width:76px;top:486px">100</div>
<div class="b" style="left:800px;top:492px;width:4px;height:2px;background:#484848"></div>
<div class="t r sm" style="left:833px;width:166px;top:486px">VFTM TRI 7,5</div>
<div class="t s" style="left:204px;width:600px;top:509.5px">Трехфазные 6-ти полюсные электродвигатели (1ф - 230 В - 50 Гц)</div>
<div class="b" style="left:14px;top:530px;width:75px;height:17.9px;background:#efefef"></div>
<div class="b" style="left:92px;top:530px;width:93px;height:17.9px;background:#efefef"></div>
<div class="b" style="left:188.5px;top:530px;width:83.5px;height:17.9px;background:#efefef"></div>
<div class="b" style="left:275.5px;top:530px;width:85px;height:17.9px;background:#efefef"></div>
<div class="b" style="left:363.5px;top:530px;width:74.5px;height:17.9px;background:#efefef"></div>
<div class="b" style="left:441px;top:530px;width:76px;height:17.9px;background:#efefef"></div>
<div class="b" style="left:520px;top:530px;width:75.5px;height:17.9px;background:#efefef"></div>
<div class="b" style="left:598px;top:530px;width:103px;height:17.9px;background:#efefef"></div>
<div class="b" style="left:704px;top:530px;width:56px;height:17.9px;background:#efefef"></div>
<div class="b" style="left:763px;top:530px;width:77px;height:17.9px;background:#efefef"></div>
<div class="b" style="left:843px;top:530px;width:146px;height:17.9px;background:#efefef"></div>
<div class="t r c1" style="left:18.5px;top:532px;text-align:left">ILT/6-225</div>
<div class="t r" style="left:82px;width:113px;top:533px">500 x 250</div>
<div class="t r" style="left:178.5px;width:103.5px;top:533px">840</div>
<div class="t r" style="left:265.5px;width:105px;top:533px">220</div>
<div class="t r" style="left:353.5px;width:94.5px;top:533px">0,57</div>
<div class="t r" style="left:431px;width:96px;top:533px">1185</div>
<div class="t r" style="left:510px;width:95.5px;top:533px">50</div>
<div class="t r" style="left:588px;width:123px;top:533px">75</div>
<div class="t r" style="left:694px;width:76px;top:533px">20</div>
<div class="t r sm" style="left:753px;width:97px;top:533px">RMT-1,5</div>
<div class="t r sm" style="left:833px;width:166px;top:533px">VFTM TRI 0,37</div>
<div class="b" style="left:14px;top:551.25px;width:75px;height:17.65px;background:#e2e2e2"></div>
<div class="b" style="left:92px;top:551.25px;width:93px;height:17.65px;background:#e2e2e2"></div>
<div class="b" style="left:188.5px;top:551.25px;width:83.5px;height:17.65px;background:#e2e2e2"></div>
<div class="b" style="left:275.5px;top:551.25px;width:85px;height:17.65px;background:#e2e2e2"></div>
<div class="b" style="left:363.5px;top:551.25px;width:74.5px;height:17.65px;background:#e2e2e2"></div>
<div class="b" style="left:441px;top:551.25px;width:76px;height:17.65px;background:#e2e2e2"></div>
<div class="b" style="left:520px;top:551.25px;width:75.5px;height:17.65px;background:#e2e2e2"></div>
<div class="b" style="left:598px;top:551.25px;width:103px;height:17.65px;background:#e2e2e2"></div>
<div class="b" style="left:704px;top:551.25px;width:56px;height:17.65px;background:#e2e2e2"></div>
<div class="b" style="left:763px;top:551.25px;width:77px;height:17.65px;background:#e2e2e2"></div>
<div class="b" style="left:843px;top:551.25px;width:146px;height:17.65px;background:#e2e2e2"></div>
<div class="t r c1" style="left:18.5px;top:554px;text-align:left">ILT/6-250</div>
<div class="t r" style="left:82px;width:113px;top:555px">500 x 300</div>
<div class="t r" style="left:178.5px;width:103.5px;top:555px">800</div>
<div class="t r" style="left:265.5px;width:105px;top:555px">280</div>
<div class="t r" style="left:353.5px;width:94.5px;top:555px">0,57</div>
<div class="t r" style="left:431px;width:96px;top:555px">1630</div>
<div class="t r" style="left:510px;width:95.5px;top:555px">51</div>
<div class="t r" style="left:588px;width:123px;top:555px">60</div>
<div class="t r" style="left:694px;width:76px;top:555px">25</div>
<div class="t r sm" style="left:753px;width:97px;top:555px">RMT-1,5</div>
<div class="t r sm" style="left:833px;width:166px;top:555px">VFTM TRI 0,37</div>
<div class="b" style="left:14px;top:571.9px;width:75px;height:19.1px;background:#efefef"></div>
<div class="b" style="left:92px;top:571.9px;width:93px;height:19.1px;background:#efefef"></div>
<div class="b" style="left:188.5px;top:571.9px;width:83.5px;height:19.1px;background:#efefef"></div>
<div class="b" style="left:275.5px;top:571.9px;width:85px;height:19.1px;background:#efefef"></div>
<div class="b" style="left:363.5px;top:571.9px;width:74.5px;height:19.1px;background:#efefef"></div>
<div class="b" style="left:441px;top:571.9px;width:76px;height:19.1px;background:#efefef"></div>
<div class="b" style="left:520px;top:571.9px;width:75.5px;height:19.1px;background:#efefef"></div>
<div class="b" style="left:598px;top:571.9px;width:103px;height:19.1px;background:#efefef"></div>
<div class="b" style="left:704px;top:571.9px;width:56px;height:19.1px;background:#efefef"></div>
<div class="b" style="left:763px;top:571.9px;width:77px;height:19.1px;background:#efefef"></div>
<div class="b" style="left:843px;top:571.9px;width:146px;height:19.1px;background:#efefef"></div>
<div class="t r c1" style="left:18.5px;top:574px;text-align:left">ILT/6-285</div>
<div class="t r" style="left:82px;width:113px;top:575px">600 x 300</div>
<div class="t r" style="left:178.5px;width:103.5px;top:575px">840</div>
<div class="t r" style="left:265.5px;width:105px;top:575px">670</div>
<div class="t r" style="left:353.5px;width:94.5px;top:575px">1,33</div>
<div class="t r" style="left:431px;width:96px;top:575px">2700</div>
<div class="t r" style="left:510px;width:95.5px;top:575px">56</div>
<div class="t r" style="left:588px;width:123px;top:575px">70</div>
<div class="t r" style="left:694px;width:76px;top:575px">32</div>
<div class="t r sm" style="left:753px;width:97px;top:575px">RMT-1,5</div>
<div class="t r sm" style="left:833px;width:166px;top:575px">VFTM TRI 0,37</div>
<div class="b" style="left:14px;top:593.3px;width:75px;height:17.45px;background:#e2e2e2"></div>
<div class="b" style="left:92px;top:593.3px;width:93px;height:17.45px;background:#e2e2e2"></div>
<div class="b" style="left:188.5px;top:593.3px;width:83.5px;height:17.45px;background:#e2e2e2"></div>
<div class="b" style="left:275.5px;top:593.3px;width:85px;height:17.45px;background:#e2e2e2"></div>
<div class="b" style="left:363.5px;top:593.3px;width:74.5px;height:17.45px;background:#e2e2e2"></div>
<div class="b" style="left:441px;top:593.3px;width:76px;height:17.45px;background:#e2e2e2"></div>
<div class="b" style="left:520px;top:593.3px;width:75.5px;height:17.45px;background:#e2e2e2"></div>
<div class="b" style="left:598px;top:593.3px;width:103px;height:17.45px;background:#e2e2e2"></div>
<div class="b" style="left:704px;top:593.3px;width:56px;height:17.45px;background:#e2e2e2"></div>
<div class="b" style="left:763px;top:593.3px;width:77px;height:17.45px;background:#e2e2e2"></div>
<div class="b" style="left:843px;top:593.3px;width:146px;height:17.45px;background:#e2e2e2"></div>
<div class="t r c1" style="left:18.5px;top:595px;text-align:left">ILT/6-315</div>
<div class="t r" style="left:82px;width:113px;top:596px">600 x 350</div>
<div class="t r" style="left:178.5px;width:103.5px;top:596px">900</div>
<div class="t r" style="left:265.5px;width:105px;top:596px">710</div>
<div class="t r" style="left:353.5px;width:94.5px;top:596px">1,44</div>
<div class="t r" style="left:431px;width:96px;top:596px">2820</div>
<div class="t r" style="left:510px;width:95.5px;top:596px">57</div>
<div class="t r" style="left:588px;width:123px;top:596px">75</div>
<div class="t r" style="left:694px;width:76px;top:596px">40</div>
<div class="t r sm" style="left:753px;width:97px;top:596px">RMT-2,5</div>
<div class="t r sm" style="left:833px;width:166px;top:596px">VFTM TRI 0,55</div>
<div class="b" style="left:14px;top:614.1px;width:75px;height:18px;background:#efefef"></div>
<div class="b" style="left:92px;top:614.1px;width:93px;height:18px;background:#efefef"></div>
<div class="b" style="left:188.5px;top:614.1px;width:83.5px;height:18px;background:#efefef"></div>
<div class="b" style="left:275.5px;top:614.1px;width:85px;height:18px;background:#efefef"></div>
<div class="b" style="left:363.5px;top:614.1px;width:74.5px;height:18px;background:#efefef"></div>
<div class="b" style="left:441px;top:614.1px;width:76px;height:18px;background:#efefef"></div>
<div class="b" style="left:520px;top:614.1px;width:75.5px;height:18px;background:#efefef"></div>
<div class="b" style="left:598px;top:614.1px;width:103px;height:18px;background:#efefef"></div>
<div class="b" style="left:704px;top:614.1px;width:56px;height:18px;background:#efefef"></div>
<div class="b" style="left:763px;top:614.1px;width:77px;height:18px;background:#efefef"></div>
<div class="b" style="left:843px;top:614.1px;width:146px;height:18px;background:#efefef"></div>
<div class="t r c1" style="left:18.5px;top:616px;text-align:left">ILT/6-355</div>
<div class="t r" style="left:82px;width:113px;top:617px">700 x 400</div>
<div class="t r" style="left:178.5px;width:103.5px;top:617px">875</div>
<div class="t r" style="left:265.5px;width:105px;top:617px">1380</div>
<div class="t r" style="left:353.5px;width:94.5px;top:617px">3</div>
<div class="t r" style="left:431px;width:96px;top:617px">4200</div>
<div class="t r" style="left:510px;width:95.5px;top:617px">61</div>
<div class="t r" style="left:588px;width:123px;top:617px">70</div>
<div class="t r" style="left:694px;width:76px;top:617px">65</div>
<div class="t r sm" style="left:753px;width:97px;top:617px">RMT-5</div>
<div class="t r sm" style="left:833px;width:166px;top:617px">VFTM TRI 1,5</div>
<div class="b" style="left:14px;top:634.75px;width:75px;height:18.35px;background:#e2e2e2"></div>
<div class="b" style="left:92px;top:634.75px;width:93px;height:18.35px;background:#e2e2e2"></div>
<div class="b" style="left:188.5px;top:634.75px;width:83.5px;height:18.35px;background:#e2e2e2"></div>
<div class="b" style="left:275.5px;top:634.75px;width:85px;height:18.35px;background:#e2e2e2"></div>
<div class="b" style="left:363.5px;top:634.75px;width:74.5px;height:18.35px;background:#e2e2e2"></div>
<div class="b" style="left:441px;top:634.75px;width:76px;height:18.35px;background:#e2e2e2"></div>
<div class="b" style="left:520px;top:634.75px;width:75.5px;height:18.35px;background:#e2e2e2"></div>
<div class="b" style="left:598px;top:634.75px;width:103px;height:18.35px;background:#e2e2e2"></div>
<div class="b" style="left:704px;top:634.75px;width:56px;height:18.35px;background:#e2e2e2"></div>
<div class="b" style="left:763px;top:634.75px;width:77px;height:18.35px;background:#e2e2e2"></div>
<div class="b" style="left:843px;top:634.75px;width:146px;height:18.35px;background:#e2e2e2"></div>
<div class="t r c1" style="left:18.5px;top:637px;text-align:left">ILT/6-400</div>
<div class="t r" style="left:82px;width:113px;top:638px">800 x 500</div>
<div class="t r" style="left:178.5px;width:103.5px;top:638px">950</div>
<div class="t r" style="left:265.5px;width:105px;top:638px">3000</div>
<div class="t r" style="left:353.5px;width:94.5px;top:638px">6,37</div>
<div class="t r" style="left:431px;width:96px;top:638px">7400</div>
<div class="t r" style="left:510px;width:95.5px;top:638px">66</div>
<div class="t r" style="left:588px;width:123px;top:638px">60</div>
<div class="t r" style="left:694px;width:76px;top:638px">80</div>
<div class="t r sm" style="left:753px;width:97px;top:638px">RMT-8</div>
<div class="t r sm" style="left:833px;width:166px;top:638px">VFTM TRI 3</div>
<div class="b" style="left:14px;top:655.6px;width:75px;height:18px;background:#efefef"></div>
<div class="b" style="left:92px;top:655.6px;width:93px;height:18px;background:#efefef"></div>
<div class="b" style="left:188.5px;top:655.6px;width:83.5px;height:18px;background:#efefef"></div>
<div class="b" style="left:275.5px;top:655.6px;width:85px;height:18px;background:#efefef"></div>
<div class="b" style="left:363.5px;top:655.6px;width:74.5px;height:18px;background:#efefef"></div>
<div class="b" style="left:441px;top:655.6px;width:76px;height:18px;background:#efefef"></div>
<div class="b" style="left:520px;top:655.6px;width:75.5px;height:18px;background:#efefef"></div>
<div class="b" style="left:598px;top:655.6px;width:103px;height:18px;background:#efefef"></div>
<div class="b" style="left:704px;top:655.6px;width:56px;height:18px;background:#efefef"></div>
<div class="b" style="left:763px;top:655.6px;width:77px;height:18px;background:#efefef"></div>
<div class="b" style="left:843px;top:655.6px;width:146px;height:18px;background:#efefef"></div>
<div class="t r c1" style="left:18.5px;top:658px;text-align:left">ILT/6-450</div>
<div class="t r" style="left:82px;width:113px;top:659px">1000 x 500</div>
<div class="t r" style="left:178.5px;width:103.5px;top:659px">900</div>
<div class="t r" style="left:265.5px;width:105px;top:659px">5350</div>
<div class="t r" style="left:353.5px;width:94.5px;top:659px">10</div>
<div class="t r" style="left:431px;width:96px;top:659px">10850</div>
<div class="t r" style="left:510px;width:95.5px;top:659px">67</div>
<div class="t r" style="left:588px;width:123px;top:659px">40</div>
<div class="t r" style="left:694px;width:76px;top:659px">100</div>
<div class="t r sm" style="left:753px;width:97px;top:659px">RMT-12</div>
<div class="t r sm" style="left:833px;width:166px;top:659px">VFTM TRI 5,5</div>
<div class="t s" style="left:204px;width:600px;top:682.5px">Трехфазные 8-ми полюсные электродвигатели (1ф - 230 В - 50 Гц)</div>
<div class="b" style="left:14px;top:703.75px;width:75px;height:16.85px;background:#efefef"></div>
<div class="b" style="left:92px;top:703.75px;width:93px;height:16.85px;background:#efefef"></div>
<div class="b" style="left:188.5px;top:703.75px;width:83.5px;height:16.85px;background:#efefef"></div>
<div class="b" style="left:275.5px;top:703.75px;width:85px;height:16.85px;background:#efefef"></div>
<div class="b" style="left:363.5px;top:703.75px;width:74.5px;height:16.85px;background:#efefef"></div>
<div class="b" style="left:441px;top:703.75px;width:76px;height:16.85px;background:#efefef"></div>
<div class="b" style="left:520px;top:703.75px;width:75.5px;height:16.85px;background:#efefef"></div>
<div class="b" style="left:598px;top:703.75px;width:103px;height:16.85px;background:#efefef"></div>
<div class="b" style="left:704px;top:703.75px;width:56px;height:16.85px;background:#efefef"></div>
<div class="b" style="left:763px;top:703.75px;width:77px;height:16.85px;background:#efefef"></div>
<div class="b" style="left:843px;top:703.75px;width:146px;height:16.85px;background:#efefef"></div>
<div class="t r c1" style="left:18.5px;top:706px;text-align:left">ILT/8-355</div>
<div class="t r" style="left:82px;width:113px;top:707px">700 x 400</div>
<div class="t r" style="left:178.5px;width:103.5px;top:707px">660</div>
<div class="t r" style="left:265.5px;width:105px;top:707px">614</div>
<div class="t r" style="left:353.5px;width:94.5px;top:707px">1,33</div>
<div class="t r" style="left:431px;width:96px;top:707px">3030</div>
<div class="t r" style="left:510px;width:95.5px;top:707px">52</div>
<div class="t r" style="left:588px;width:123px;top:707px">70</div>
<div class="t r" style="left:694px;width:76px;top:707px">65</div>
<div class="t r sm" style="left:753px;width:97px;top:707px">RMT-2,5</div>
<div class="t r sm" style="left:833px;width:166px;top:707px">VFTM TRI 0,37</div>
<div class="b" style="left:14px;top:724.4px;width:75px;height:17.5px;background:#e2e2e2"></div>
<div class="b" style="left:92px;top:724.4px;width:93px;height:17.5px;background:#e2e2e2"></div>
<div class="b" style="left:188.5px;top:724.4px;width:83.5px;height:17.5px;background:#e2e2e2"></div>
<div class="b" style="left:275.5px;top:724.4px;width:85px;height:17.5px;background:#e2e2e2"></div>
<div class="b" style="left:363.5px;top:724.4px;width:74.5px;height:17.5px;background:#e2e2e2"></div>
<div class="b" style="left:441px;top:724.4px;width:76px;height:17.5px;background:#e2e2e2"></div>
<div class="b" style="left:520px;top:724.4px;width:75.5px;height:17.5px;background:#e2e2e2"></div>
<div class="b" style="left:598px;top:724.4px;width:103px;height:17.5px;background:#e2e2e2"></div>
<div class="b" style="left:704px;top:724.4px;width:56px;height:17.5px;background:#e2e2e2"></div>
<div class="b" style="left:763px;top:724.4px;width:77px;height:17.5px;background:#e2e2e2"></div>
<div class="b" style="left:843px;top:724.4px;width:146px;height:17.5px;background:#e2e2e2"></div>
<div class="t r c1" style="left:18.5px;top:726px;text-align:left">ILT/8-400</div>
<div class="t r" style="left:82px;width:113px;top:727px">800 x 500</div>
<div class="t r" style="left:178.5px;width:103.5px;top:727px">700</div>
<div class="t r" style="left:265.5px;width:105px;top:727px">1340</div>
<div class="t r" style="left:353.5px;width:94.5px;top:727px">3,94</div>
<div class="t r" style="left:431px;width:96px;top:727px">5350</div>
<div class="t r" style="left:510px;width:95.5px;top:727px">59</div>
<div class="t r" style="left:588px;width:123px;top:727px">40</div>
<div class="t r" style="left:694px;width:76px;top:727px">80</div>
<div class="t r sm" style="left:753px;width:97px;top:727px">RMT-5</div>
<div class="t r sm" style="left:833px;width:166px;top:727px">VFTM TRI 2,2</div>
<div class="b" style="left:14px;top:745.6px;width:75px;height:17.5px;background:#efefef"></div>
<div class="b" style="left:92px;top:745.6px;width:93px;height:17.5px;background:#efefef"></div>
<div class="b" style="left:188.5px;top:745.6px;width:83.5px;height:17.5px;background:#efefef"></div>
<div class="b" style="left:275.5px;top:745.6px;width:85px;height:17.5px;background:#efefef"></div>
<div class="b" style="left:363.5px;top:745.6px;width:74.5px;height:17.5px;background:#efefef"></div>
<div class="b" style="left:441px;top:745.6px;width:76px;height:17.5px;background:#efefef"></div>
<div class="b" style="left:520px;top:745.6px;width:75.5px;height:17.5px;background:#efefef"></div>
<div class="b" style="left:598px;top:745.6px;width:103px;height:17.5px;background:#efefef"></div>
<div class="b" style="left:704px;top:745.6px;width:56px;height:17.5px;background:#efefef"></div>
<div class="b" style="left:763px;top:745.6px;width:77px;height:17.5px;background:#efefef"></div>
<div class="b" style="left:843px;top:745.6px;width:146px;height:17.5px;background:#efefef"></div>
<div class="t r c1" style="left:18.5px;top:747px;text-align:left">ILT/8-450</div>
<div class="t r" style="left:82px;width:113px;top:748px">1000 x 500</div>
<div class="t r" style="left:178.5px;width:103.5px;top:748px">675</div>
<div class="t r" style="left:265.5px;width:105px;top:748px">2380</div>
<div class="t r" style="left:353.5px;width:94.5px;top:748px">4,45</div>
<div class="t r" style="left:431px;width:96px;top:748px">8000</div>
<div class="t r" style="left:510px;width:95.5px;top:748px">61</div>
<div class="t r" style="left:588px;width:123px;top:748px">70</div>
<div class="t r" style="left:694px;width:76px;top:748px">100</div>
<div class="t r sm" style="left:753px;width:97px;top:748px">RMT-8</div>
<div class="t r sm" style="left:833px;width:166px;top:748px">VFTM TRI 2,2</div>
<div class="t n" style="left:19.5px;top:769.5px;text-align:left"><span style="font-size:10px;position:relative;top:-1px">*</span> Уровень звукового давления измерен на расстоянии 1 м от вентилятора, в свободном пространстве.</div>
</body></html>
